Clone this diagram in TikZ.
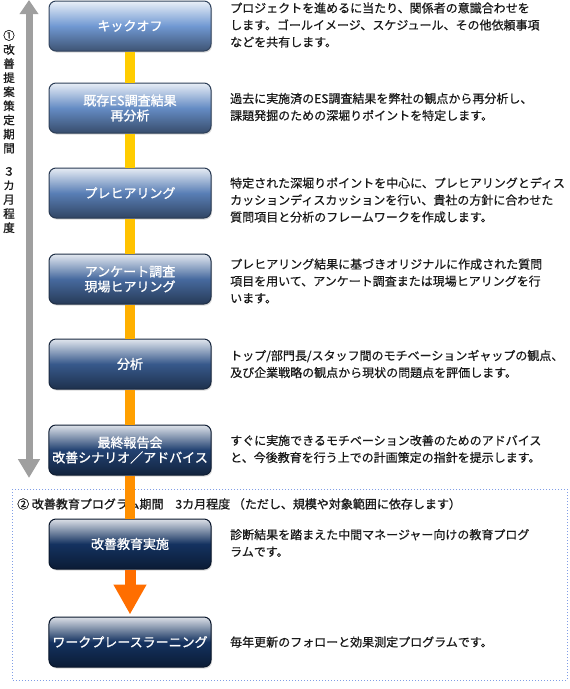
\documentclass[tikz,border=0pt]{standalone}
\usepackage{fontspec}
\setmainfont{Noto Sans CJK JP}[FakeBold=0.6]
\newfontfamily\headfont{Noto Sans CJK JP}[FakeBold=1.2]
\usetikzlibrary{arrows.meta,shadows}
\definecolor{boxlight}{RGB}{112,152,210}
\definecolor{boxdark}{RGB}{20,50,96}
\colorlet{b1}{boxlight}
\colorlet{b2}{boxdark!12!boxlight}
\colorlet{b3}{boxdark!25!boxlight}
\colorlet{b4}{boxdark!45!boxlight}
\colorlet{b5}{boxdark!62!boxlight}
\colorlet{b6}{boxdark!85!boxlight}
\colorlet{b7}{boxdark}
\colorlet{b8}{boxdark}
\definecolor{linkA}{RGB}{255,204,0}
\definecolor{linkB}{RGB}{255,194,0}
\definecolor{linkC}{RGB}{255,176,0}
\definecolor{linkD}{RGB}{255,160,0}
\definecolor{linkE}{RGB}{255,144,0}
\definecolor{arroworange}{RGB}{255,110,0}
\definecolor{frameblue}{RGB}{128,158,230}
\begin{document}
\begin{tikzpicture}[x=1pt,y=-1pt,
  stage/.style={draw=#1!45!black, line width=1pt, rounded corners=7pt,
    minimum width=162pt, minimum height=50pt,
    top color=#1!15!white, bottom color=#1!55!black, middle color=#1,
    text=white, align=center, font=\headfont\fontsize{13}{15}\selectfont,
    drop shadow={opacity=.3,shadow xshift=1pt,shadow yshift=-1.5pt}},
  desc/.style={anchor=west, align=left, inner sep=0pt, text=black!90,
    font=\fontsize{12}{17}\selectfont},
  vlabel/.style={align=center, inner sep=0pt, text=black!90,
    font=\headfont\fontsize{11.5}{14.1}\selectfont},
  link/.style={line width=10pt, color=#1},
  bigarrow/.style={-{Triangle[width=31pt,length=30pt]}, line width=11pt,
    color=arroworange, shorten >=2pt},
  period/.style={{Triangle[width=18pt,length=14pt]}-{Triangle[width=21pt,length=19pt]},
    line width=7pt, color=gray!75},
  frame/.style={draw=frameblue, line width=1pt, dash pattern=on 1.2pt off 1.8pt}]
\useasboundingbox (0,0) rectangle (570,689);

% phase 2 frame
\draw[frame] (12,489) rectangle (567,680);

% stages
\node[stage=b1] (kickoff) at (130,26) {キックオフ};
\node[stage=b2] (reanalysis) at (130,108) {既存ES調査結果\\再分析};
\node[stage=b3] (prehearing) at (130,193) {プレヒアリング};
\node[stage=b4] (survey) at (130,279) {アンケート調査\\現場ヒアリング};
\node[stage=b5] (analysis) at (130,364) {分析};
\node[stage=b6] (report) at (130,450) {最終報告会\\改善シナリオ／アドバイス};
\node[stage=b7] (training) at (130,544) {改善教育実施};
\node[stage=b8] (wpl) at (130,642) {ワークプレースラーニング};

% descriptions
\node[desc] (kickoffdesc) at (230,25) {プロジェクトを進めるに当たり、関係者の意識合わせを\\します。ゴールイメージ、スケジュール、その他依頼事項\\などを共有します。};
\node[desc] (reanalysisdesc) at (230,107) {過去に実施済のES調査結果を弊社の観点から再分析し、\\課題発掘のための深堀りポイントを特定します。};
\node[desc] (prehearingdesc) at (230,200) {特定された深堀りポイントを中心に、プレヒアリングとディス\\カッションディスカッションを行い、貴社の方針に合わせた\\質問項目と分析のフレームワークを作成します。};
\node[desc] (surveydesc) at (230,281) {プレヒアリング結果に基づきオリジナルに作成された質問\\項目を用いて、アンケート調査または現場ヒアリングを行\\います。};
\node[desc] (analysisdesc) at (230,364) {トップ/部門長/スタッフ間のモチベーションギャップの観点、\\及び企業戦略の観点から現状の問題点を評価します。};
\node[desc] (reportdesc) at (230,449) {すぐに実施できるモチベーション改善のためのアドバイス\\と、今後教育を行う上での計画策定の指針を提示します。};
\node[desc] (trainingdesc) at (230,543) {診断結果を踏まえた中間マネージャー向けの教育プログ\\ラムです。};
\node[desc] (wpldesc) at (230,642) {毎年更新のフォローと効果測定プログラムです。};

% phase labels
\node[desc, font=\headfont\fontsize{12}{17}\selectfont] (phase2) at (17,504) {② 改善教育プログラム期間　3カ月程度 （ただし、規模や対象範囲に依存します）};
\node[vlabel] (phase1) at (9,131.5) {①\\改\\善\\提\\案\\策\\定\\期\\間\\[9pt]３\\カ\\月\\程\\度};
\coordinate (ptop) at (29,0);
\coordinate (pbot) at (29,478);
\draw[period] (ptop) -- (pbot);

% connectors
\draw[link=linkA] (kickoff) -- (reanalysis);
\draw[link=linkA] (reanalysis) -- (prehearing);
\draw[link=linkB] (prehearing) -- (survey);
\draw[link=linkC] (survey) -- (analysis);
\draw[link=linkD] (analysis) -- (report);
\draw[link=linkE] (report) -- (training);
\draw[bigarrow] (training) -- (wpl);
\end{tikzpicture}
\end{document}
